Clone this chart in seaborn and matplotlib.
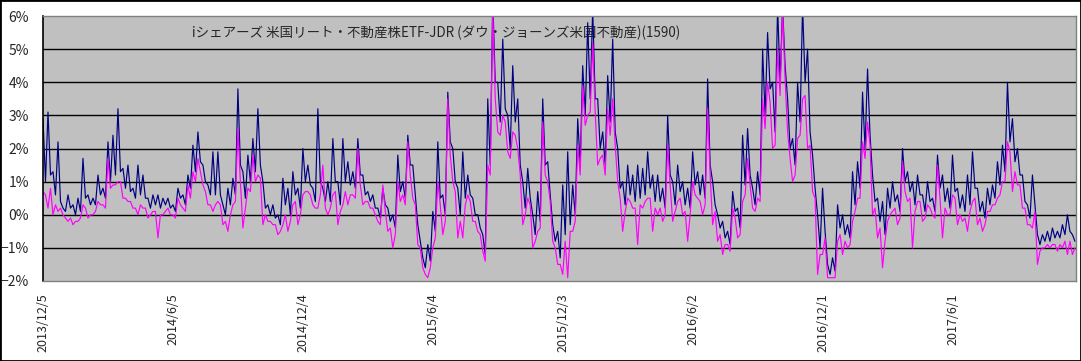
import matplotlib
matplotlib.use("Agg")
import matplotlib.pyplot as plt
import matplotlib.ticker as mticker
import matplotlib.patches as mpatches
import seaborn as sns
import pandas as pd

# weekly readings (percent), starting 2013/12/5
start_date = "2013-12-05"
# navy series: weekly peak, then the dip later in the same week
navy_hi = [
    2.9, 3.1, 1.3, 2.2, 0.2, 0.6, 0.3, 0.5, 1.7, 0.6,
    0.5, 1.2, 0.8, 2.2, 2.4, 3.2, 1.4, 1.5, 0.8, 1.5,
    1.2, 0.5, 0.6, 0.6, 0.5, 0.5, 0.3, 0.8, 0.6, 1.2,
    2.1, 2.5, 1.5, 0.9, 1.9, 1.9, 0.3, 0.8, 1.1, 3.8,
    1.3, 1.8, 2.3, 3.2, 1.0, 0.3, 0.3, 0.0, 1.1, 0.8,
    1.3, 0.8, 2.0, 1.5, 0.8, 3.2, 0.8, 1.0, 2.3, 1.0,
    2.3, 1.6, 1.3, 2.3, 1.2, 0.7, 0.6, 0.2, 0.8, 0.2,
    0.0, 1.8, 1.0, 2.4, 1.5, -0.3, -1.3, -0.9, 0.1, 2.2,
    0.6, 3.7, 2.0, 0.8, 1.9, 1.2, 0.5, 0.0, -0.6, 3.5,
    6.5, 4.0, 5.3, 3.0, 4.5, 3.5, 1.0, 1.4, 0.0, 0.7,
    3.5, 1.6, -0.3, -0.5, 0.9, 1.9, 0.9, 2.9, 4.5, 5.8,
    6.2, 3.5, 2.5, 4.2, 5.3, 2.0, 1.0, 1.5, 1.2, 1.5,
    1.4, 1.9, 1.2, 1.2, 0.8, 3.0, 1.0, 1.5, 1.0, 0.8,
    1.9, 1.3, 1.2, 4.1, 1.0, 0.0, -0.2, -0.5, 0.7, 0.2,
    2.4, 2.6, 0.8, 1.3, 5.0, 5.5, 4.0, 6.3, 6.3, 3.5,
    2.3, 4.0, 6.3, 5.0, 1.8, 0.0, 0.8, -1.5, -1.3, 0.3,
    0.0, -0.3, 1.3, 1.6, 3.7, 4.4, 1.2, 0.5, 0.4, 0.8,
    1.0, 0.6, 2.0, 1.3, 1.0, 1.2, 0.6, 1.0, 0.5, 1.8,
    1.2, 0.8, 1.8, 0.8, 0.6, 1.2, 1.9, 0.8, 0.4, 0.8,
    0.9, 1.6, 2.1, 4.0, 2.9, 2.0, 1.2, 0.3, 1.2, -0.6,
    -0.6, -0.5, -0.4, -0.5, -0.3, 0.0, -0.6,
]
navy_lo = [
    1.0, 1.2, 0.6, 0.4, 0.1, 0.2, 0.0, 0.1, 0.5, 0.3,
    0.3, 0.6, 0.5, 1.0, 1.2, 1.3, 0.8, 0.7, 0.5, 0.6,
    0.5, 0.2, 0.3, 0.2, 0.3, 0.2, 0.1, 0.5, 0.3, 0.8,
    1.3, 1.6, 1.0, 0.6, 0.6, 0.6, 0.0, 0.3, 0.6, 1.5,
    0.5, 1.0, 1.3, 1.5, 0.2, 0.0, -0.1, -0.3, 0.3, 0.0,
    0.6, 0.2, 1.0, 0.9, 0.4, 1.0, 0.4, 0.4, 1.0, 0.3,
    1.0, 0.9, 0.8, 1.2, 0.6, 0.4, 0.2, -0.1, 0.3, -0.2,
    -0.4, 0.7, 0.5, 1.5, 0.6, -0.8, -1.6, -1.4, -0.5, 0.5,
    0.0, 2.2, 1.0, 0.0, 0.5, 0.6, 0.0, -0.4, -1.2, 1.5,
    4.0, 2.8, 3.2, 2.0, 2.8, 1.5, 0.2, 0.5, -0.6, -0.2,
    1.5, 0.6, -0.8, -1.3, -0.6, -0.3, 0.0, 1.5, 3.0, 3.5,
    3.5, 2.0, 1.5, 2.8, 2.5, 0.8, 0.3, 0.6, 0.4, 0.5,
    0.6, 0.8, 0.4, 0.4, 0.2, 1.2, 0.3, 0.7, 0.3, 0.2,
    0.9, 0.6, 0.5, 1.5, 0.3, -0.4, -0.7, -0.9, 0.1, -0.4,
    0.9, 1.2, 0.3, 0.6, 3.0, 3.8, 2.5, 4.0, 4.5, 2.0,
    1.5, 2.8, 4.0, 2.5, 0.8, -1.0, -0.5, -1.8, -1.7, -0.4,
    -0.6, -0.7, 0.3, 0.8, 2.0, 2.4, 0.4, -0.2, -0.6, 0.2,
    0.4, 0.1, 1.0, 0.7, 0.3, 0.6, 0.1, 0.4, 0.1, 0.8,
    0.4, 0.2, 0.7, 0.2, 0.1, 0.3, 0.8, 0.1, -0.1, 0.3,
    0.5, 0.9, 1.3, 2.2, 1.6, 1.2, 0.4, -0.1, 0.3, -0.9,
    -0.8, -0.8, -0.7, -0.7, -0.6, -0.5, -0.8,
]
# magenta series: reading at the start of the week, then later in the week
magenta_a = [
    0.7, 0.2, 0.0, 0.1, 0.0, -0.2, -0.3, -0.2, 0.3, -0.1,
    0.0, 0.4, 0.3, 1.7, 0.9, 1.0, 0.5, 0.4, 0.2, 0.0,
    0.2, -0.1, 0.1, -0.7, 0.0, 0.2, 0.0, 0.5, 0.2, 0.9,
    1.3, 1.7, 0.9, 0.3, 0.1, 0.4, -0.3, -0.5, 0.3, 2.6,
    -0.4, 0.8, 1.8, 1.2, -0.3, -0.2, -0.3, -0.6, -0.3, -0.5,
    0.3, -0.3, 0.6, 0.7, 0.3, 0.2, 1.5, 0.0, 0.6, -0.3,
    0.3, 0.3, 0.6, 2.0, 0.3, 0.4, 0.2, -0.2, 0.9, -0.5,
    -1.0, 1.0, 0.6, 2.2, 0.5, -0.9, -1.6, -1.9, -1.0, 1.0,
    -0.6, 3.5, 1.0, -0.7, -0.7, 0.6, -0.2, -0.5, -1.1, 1.5,
    6.2, 2.5, 3.0, 1.9, 2.5, 2.0, -0.3, 0.5, -1.0, -0.5,
    2.8, 1.0, -0.8, -1.5, -1.8, -1.9, -0.5, 2.1, 3.9, 3.0,
    5.2, 1.5, 1.8, 3.2, 3.5, 1.0, -0.5, 0.5, 0.2, -0.9,
    0.2, 0.5, -0.5, 0.0, -0.2, 2.1, -0.2, 0.4, 0.0, -0.8,
    1.0, 0.5, 0.0, 3.2, -0.3, -0.8, -1.2, -0.9, 0.2, -0.7,
    0.4, 1.7, 0.2, 0.5, 3.5, 4.0, 2.0, 5.0, 6.2, 2.5,
    1.0, 2.3, 3.5, 2.0, 0.7, -1.8, -1.2, -1.9, -1.9, -0.8,
    -1.2, -1.0, -0.2, 0.5, 2.2, 2.8, 0.0, -0.7, -1.6, -0.2,
    0.1, -0.3, 1.6, 0.4, -1.0, 0.4, -0.2, 0.3, 0.0, 1.5,
    -0.7, 0.0, 0.6, -0.3, -0.2, -0.5, 0.4, -0.3, -0.5, 0.1,
    0.3, 0.5, 1.0, 2.2, 0.7, 0.9, 0.2, -0.3, -0.4, -1.5,
    -1.0, -0.9, -0.9, -1.1, -1.0, -1.2, -1.2,
]
magenta_b = [
    0.6, 0.8, 0.3, 0.2, -0.1, -0.1, -0.2, -0.1, 0.2, 0.0,
    0.1, 0.3, 0.2, 0.8, 0.9, 1.0, 0.5, 0.4, 0.2, 0.3,
    0.2, 0.0, 0.1, 0.0, 0.1, 0.0, -0.1, 0.3, 0.1, 0.5,
    1.0, 1.3, 0.7, 0.3, 0.3, 0.3, -0.2, 0.0, 0.4, 1.0,
    0.2, 0.7, 1.0, 1.1, 0.0, -0.2, -0.3, -0.5, 0.0, -0.2,
    0.4, 0.0, 0.7, 0.6, 0.2, 0.6, 0.2, 0.2, 0.7, 0.1,
    0.7, 0.6, 0.5, 0.9, 0.4, 0.2, 0.0, -0.3, 0.1, -0.4,
    -0.6, 0.4, 0.3, 1.2, 0.3, -1.0, -1.8, -1.6, -0.7, 0.3,
    -0.2, 1.8, 0.7, -0.2, 0.3, 0.4, -0.2, -0.6, -1.4, 1.2,
    3.5, 2.4, 2.8, 1.7, 2.4, 1.2, 0.0, 0.3, -0.8, -0.4,
    1.2, 0.4, -1.0, -1.5, -0.8, -0.5, -0.2, 1.2, 2.7, 3.1,
    3.1, 1.7, 1.2, 2.4, 2.1, 0.5, 0.1, 0.4, 0.2, 0.3,
    0.4, 0.5, 0.2, 0.2, 0.0, 0.9, 0.1, 0.5, 0.1, 0.0,
    0.6, 0.4, 0.3, 1.2, 0.1, -0.6, -0.9, -1.1, -0.1, -0.6,
    0.6, 0.9, 0.1, 0.4, 2.6, 3.4, 2.1, 3.6, 4.1, 1.7,
    1.2, 2.4, 3.6, 2.1, 0.5, -1.2, -0.7, -1.9, -1.9, -0.6,
    -0.8, -0.9, 0.1, 0.5, 1.7, 2.1, 0.2, -0.4, -0.8, 0.0,
    0.2, -0.1, 0.7, 0.5, 0.1, 0.4, -0.1, 0.2, -0.1, 0.5,
    0.2, 0.0, 0.5, 0.0, -0.1, 0.1, 0.5, -0.1, -0.3, 0.1,
    0.3, 0.6, 1.0, 1.9, 1.3, 0.9, 0.2, -0.3, 0.1, -1.1,
    -1.0, -1.0, -0.9, -0.9, -0.8, -0.8, -1.0,
]
tick_labels = ["2013/12/5", "2014/6/5", "2014/12/4", "2015/6/4",
               "2015/12/3", "2016/6/2", "2016/12/1", "2017/6/1"]
title = "iシェアーズ 米国リート・不動産株ETF-JDR (ダウ・ジョーンズ米国不動産)(1590)"

weeks = pd.date_range(start_date, periods=len(navy_hi), freq="7D")
half = pd.Timedelta(hours=84)
df_navy = pd.concat([
    pd.DataFrame({"date": weeks, "value": navy_hi}),
    pd.DataFrame({"date": weeks + half, "value": navy_lo}),
]).sort_values("date")
df_mag = pd.concat([
    pd.DataFrame({"date": weeks, "value": magenta_a}),
    pd.DataFrame({"date": weeks + half, "value": magenta_b}),
]).sort_values("date")

sns.set_style("white")
plt.rcParams["font.family"] = ["Noto Sans CJK JP", "DejaVu Sans"]

fig = plt.figure(figsize=(10.81, 3.61), dpi=100)
ax = fig.add_axes([43 / 1081, 80 / 361, 1033 / 1081, 265 / 361])
ax.set_facecolor("#C0C0C0")

sns.lineplot(data=df_navy, x="date", y="value", color="#000080", lw=0.85,
             estimator=None, ax=ax)
sns.lineplot(data=df_mag, x="date", y="value", color="#FF00FF", lw=0.85,
             estimator=None, ax=ax)

ax.set_ylim(-2, 6)
ax.set_xlim(weeks[0], weeks[-1] + pd.Timedelta(days=5))
ax.yaxis.set_major_locator(mticker.MultipleLocator(1))
ax.yaxis.set_major_formatter(mticker.FuncFormatter(
    lambda v, p: f"{int(round(v))}%".replace("-", "\u2212")))
for v in range(-1, 6):
    ax.axhline(v, color="black", lw=1.0, zorder=1)

ax.set_xticks([pd.Timestamp(d.replace("/", "-")) for d in tick_labels])
ax.set_xticklabels(tick_labels, rotation=90, va="top", ha="center")
ax.tick_params(axis="both", length=0, labelsize=10)
ax.tick_params(axis="x", pad=9, labelsize=9)
ax.tick_params(axis="y", pad=10)
ax.set_xlabel("")
ax.set_ylabel("")

for side in ["top", "right", "bottom"]:
    ax.spines[side].set_color("#808080")
    ax.spines[side].set_linewidth(1.0)
ax.spines["left"].set_color("black")
ax.spines["left"].set_linewidth(1.2)

ax.text(0.381, 0.965, title, transform=ax.transAxes, ha="center", va="top",
        fontsize=9.7, zorder=0)

fig.patches.append(mpatches.Rectangle((0, 0), 1, 1, transform=fig.transFigure,
                                      fill=False, edgecolor="black", lw=2))

fig.savefig("out.png", dpi=100)
